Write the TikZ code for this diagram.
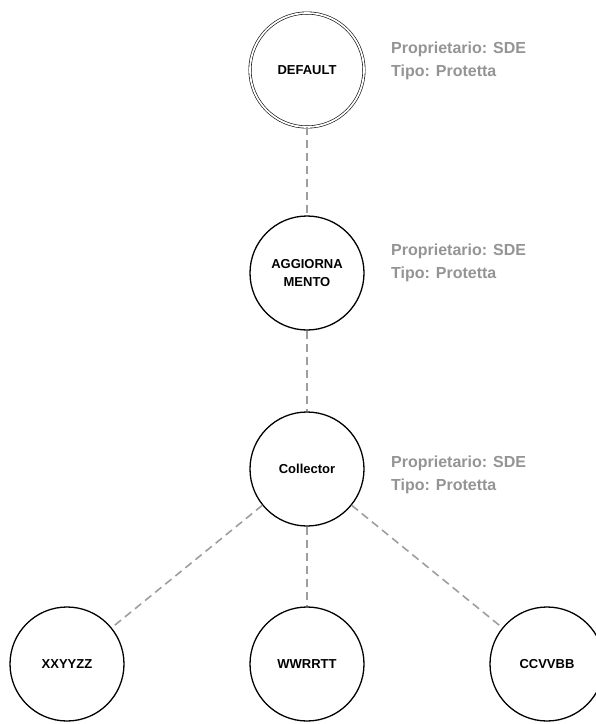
\documentclass[tikz,border=0pt]{standalone}
\usepackage{fontspec}
\setmainfont{Liberation Sans}
\begin{document}
\begin{tikzpicture}[x=1pt, y=-1pt,
	stato/.style={circle, draw, line width=1.3pt, minimum size=114pt, inner sep=0pt, align=center, font=\bfseries\fontsize{13}{17.5}\selectfont},
	info/.style={anchor=north west, inner sep=0pt, align=left, text=black!42, font=\bfseries\fontsize{16}{23}\selectfont},
	link/.style={dash pattern=on 8pt off 5pt, line width=1.6pt, draw=black!38}]
	\useasboundingbox (0,0) rectangle (596,724);
	
	% Stati della gerarchia
	\node[stato, double, double distance=1.8pt, line width=0.6pt] (default) at (307,70) {DEFAULT};
	\node[stato] (aggiornamento) at (307,273) {AGGIORNA\\MENTO};
	\node[stato] (collector) at (307,469) {Collector};
	
	% Stati figli
	\node[stato] (xxyyzz) at (67,664) {XXYYZZ};
	\node[stato] (wwrrtt) at (307,664) {WWRRTT};
	\node[stato] (ccvvbb) at (547,664) {CCVVBB};
	
	% Proprietario e tipo
	\node[info] (infodefault) at (391,42) {Proprietario: SDE\\Tipo: Protetta};
	\node[info] (infoaggiornamento) at (391,244) {Proprietario: SDE\\Tipo: Protetta};
	\node[info] (infocollector) at (391,456) {Proprietario: SDE\\Tipo: Protetta};
	
	% Collegamenti tratteggiati
	\draw[link] (default) -- (aggiornamento);
	\draw[link] (aggiornamento) -- (collector);
	\draw[link] (collector) -- (xxyyzz);
	\draw[link] (collector) -- (wwrrtt);
	\draw[link] (collector) -- (ccvvbb);
\end{tikzpicture}
\end{document}
